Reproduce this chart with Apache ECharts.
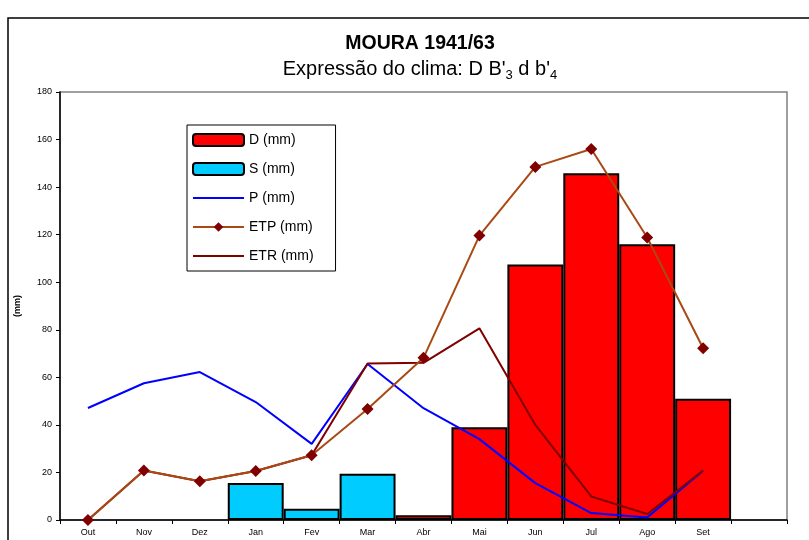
<!DOCTYPE html>
<html><head><meta charset="utf-8">
<script src="https://cdn.jsdelivr.net/npm/echarts@6/dist/echarts.min.js"></script>
<style>html,body{margin:0;padding:0;background:#fff}#c{width:809px;height:540px}</style>
</head><body><div id="c"></div>
<script>
const categories = ['Out','Nov','Dez','Jan','Fev','Mar','Abr','Mai','Jun','Jul','Ago','Set',''];
const D   = [null,null,null,null,null,null,2,39,107.5,145.8,116,51,null];
const S   = [null,null,null,15.6,4.7,19.4,null,null,null,null,null,null,null];
const P   = [47.1,57.5,62.2,49.6,32,65.6,47,34,15.5,2.9,1.1,20.7,null];
const ETP = [0,20.8,16.3,20.6,27.2,46.7,68.2,119.6,148.5,156,118.8,72.2,null];
const ETR = [0,20.8,16.3,20.6,27.2,65.8,66.1,80.6,40,9.9,2.5,20.8,null];
const yTicks = {min:0,max:180,interval:20};

const font = 'Liberation Sans, Arial, sans-serif';
const lineIcon = 'path://M0,0h51v2h-51z';
const chart = echarts.init(document.getElementById('c'), null, {renderer:'canvas'});
chart.setOption({
  animation:false,
  backgroundColor:'#fff',
  graphic:[{type:'rect',shape:{x:8,y:18,width:900,height:600},style:{fill:'none',stroke:'#000',lineWidth:1.5},z:-10}],
  title:[
    {text:'MOURA 1941/63',left:415,textAlign:'center',top:29,textStyle:{fontFamily:font,fontSize:19.5,fontWeight:'bold',color:'#000'}},
    {text:"{a|Expressão do clima: D B'}{s|3}{a| d b'}{s|4}",left:415,textAlign:'center',top:50,
     textStyle:{fontFamily:font,fontWeight:'normal',color:'#000',rich:{
       a:{fontFamily:font,fontSize:20,fontWeight:'normal',color:'#000',lineHeight:24,verticalAlign:'bottom'},
       s:{fontFamily:font,fontSize:13,fontWeight:'normal',color:'#000',lineHeight:16,verticalAlign:'bottom',padding:[0,0,-3,0]}}}}
  ],
  legend:{
    orient:'vertical',left:187,top:125,
    padding:[8,22,8,5],itemGap:15,itemWidth:51,itemHeight:12,
    borderColor:'#000',borderWidth:1,backgroundColor:'#fff',
    textStyle:{fontFamily:font,fontSize:14,color:'#000',lineHeight:14},
    data:['D (mm)','S (mm)',{name:'P (mm)',icon:lineIcon},'ETP (mm)',{name:'ETR (mm)',icon:lineIcon}]
  },
  grid:{left:60,right:22,top:92,bottom:20,show:true,borderColor:'#808080',borderWidth:1.5,containLabel:false},
  xAxis:{type:'category',data:categories,boundaryGap:true,
    axisLine:{lineStyle:{color:'#000',width:1.5}},
    axisTick:{show:true,interval:0,alignWithLabel:false,length:4,lineStyle:{color:'#000'}},
    axisLabel:{interval:0,fontFamily:font,fontSize:9,color:'#000',margin:8},
    splitLine:{show:false}},
  yAxis:{type:'value',min:yTicks.min,max:yTicks.max,interval:yTicks.interval,
    name:'(mm)',nameLocation:'middle',nameGap:38,nameRotate:90,
    nameTextStyle:{fontFamily:font,fontSize:9,fontWeight:'bold',color:'#000'},
    axisLine:{show:true,lineStyle:{color:'#000',width:1.5}},
    axisTick:{show:true,length:4,lineStyle:{color:'#000'}},
    axisLabel:{fontFamily:font,fontSize:9,color:'#000',margin:8},
    splitLine:{show:false}},
  series:[
    {name:'D (mm)',type:'bar',data:D,barWidth:'100%',barGap:'-100%',
     itemStyle:{color:'#FF0000',borderColor:'#000',borderWidth:2},z:2},
    {name:'S (mm)',type:'bar',data:S,barWidth:'100%',barGap:'-100%',
     itemStyle:{color:'#00CCFF',borderColor:'#000',borderWidth:2},z:2},
    {name:'P (mm)',type:'line',data:P,symbol:'none',showSymbol:false,
     lineStyle:{color:'#0000FF',width:2},itemStyle:{color:'#0000FF'},z:5},
    {name:'ETP (mm)',type:'line',data:ETP,symbol:'diamond',symbolSize:12,
     lineStyle:{color:'#A94A14',width:2},itemStyle:{color:'#800000'},z:6},
    {name:'ETR (mm)',type:'line',data:ETR,symbol:'none',showSymbol:false,
     lineStyle:{color:'#800000',width:2},itemStyle:{color:'#800000'},z:5}
  ]
});
</script></body></html>
